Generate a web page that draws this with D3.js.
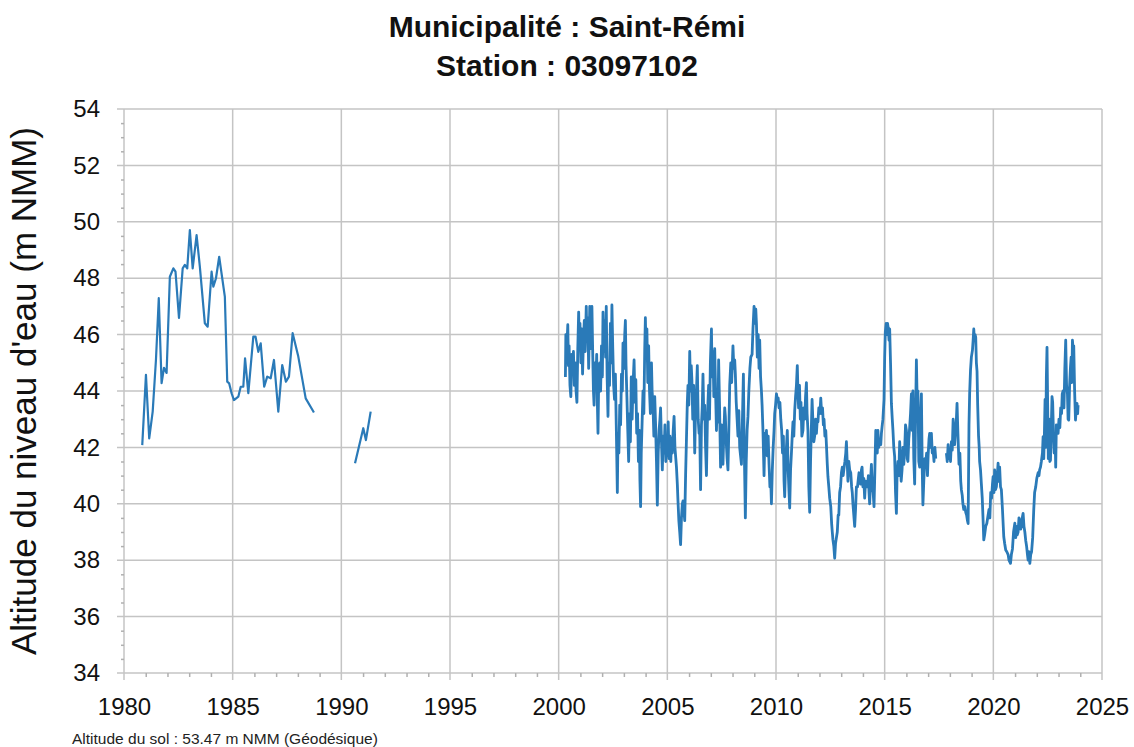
<!DOCTYPE html>
<html>
<head>
<meta charset="utf-8">
<script src="https://cdn.jsdelivr.net/npm/d3@7"></script>
<style>
  body { margin: 0; background: #fff; }
  svg { display: block; font-family: "Liberation Sans", Arial, sans-serif; }
</style>
</head>
<body>
<div id="chart"></div>
<script>
// titles
const titleLines = ["Municipalité : Saint-Rémi", "Station : 03097102"];
const yLabel = "Altitude du niveau d'eau (m NMM)";
const footNote = "Altitude du sol : 53.47 m NMM (Géodésique)";

// ticks
const xTicks = [1980, 1985, 1990, 1995, 2000, 2005, 2010, 2015, 2020, 2025];
const yTicks = [34, 36, 38, 40, 42, 44, 46, 48, 50, 52, 54];

// series : [année décimale, niveau (m)]
const serie1980 = [
  [1980.84, 42.08], [1981.01, 44.57], [1981.16, 42.32], [1981.32, 43.27], [1981.47, 45.1],
  [1981.6, 47.29], [1981.73, 44.28], [1981.84, 44.82], [1981.96, 44.64], [1982.11, 48.05],
  [1982.27, 48.35], [1982.37, 48.23], [1982.53, 46.59], [1982.7, 48.35], [1982.8, 48.47],
  [1982.91, 48.35], [1983.03, 49.71], [1983.16, 48.35], [1983.34, 49.53], [1983.49, 48.41],
  [1983.72, 46.4], [1983.85, 46.28], [1984.03, 48.23], [1984.11, 47.7], [1984.23, 47.99],
  [1984.38, 48.76], [1984.64, 47.35], [1984.75, 44.33], [1984.84, 44.27], [1984.95, 43.92],
  [1985.06, 43.68], [1985.26, 43.8], [1985.37, 44.15], [1985.49, 44.15], [1985.57, 45.16],
  [1985.72, 43.92], [1985.95, 45.93], [1986.05, 45.93], [1986.18, 45.39], [1986.29, 45.69],
  [1986.45, 44.15], [1986.59, 44.51], [1986.75, 44.45], [1986.9, 45.1], [1987.1, 43.27],
  [1987.28, 44.92], [1987.45, 44.33], [1987.59, 44.51], [1987.76, 46.05], [1988.02, 45.22],
  [1988.36, 43.74], [1988.74, 43.24]
];

const serie1990 = [
  [1990.63, 41.44], [1991.01, 42.68], [1991.13, 42.26], [1991.35, 43.27]
];

const serie2000 = [
  [2000.31, 44.5], [2000.33, 46.0], [2000.36, 45.0], [2000.39, 45.8], [2000.42, 46.35], [2000.45, 44.9],
  [2000.48, 45.6], [2000.52, 44.2], [2000.56, 43.8], [2000.6, 45.3], [2000.64, 44.6], [2000.68, 45.4],
  [2000.72, 44.2], [2000.76, 45.0], [2000.8, 44.0], [2000.84, 43.6], [2000.88, 45.5], [2000.92, 46.8],
  [2000.95, 45.6], [2000.98, 46.4], [2001.02, 45.0], [2001.06, 46.2], [2001.1, 44.6], [2001.14, 45.8],
  [2001.18, 46.5], [2001.22, 45.4], [2001.27, 47.0], [2001.3, 45.8], [2001.34, 46.6], [2001.38, 44.8],
  [2001.43, 47.0], [2001.46, 45.5], [2001.5, 46.2], [2001.53, 47.0], [2001.57, 45.2], [2001.6, 44.0],
  [2001.63, 43.5], [2001.67, 45.0], [2001.71, 44.2], [2001.75, 45.3], [2001.78, 43.6], [2001.81, 42.5],
  [2001.85, 44.8], [2001.89, 45.0], [2001.93, 44.0], [2001.97, 45.6], [2002.01, 44.5], [2002.04, 46.8],
  [2002.08, 45.4], [2002.12, 46.5], [2002.16, 45.2], [2002.19, 47.0], [2002.23, 44.5], [2002.27, 43.1],
  [2002.3, 45.0], [2002.34, 44.2], [2002.38, 46.4], [2002.42, 45.0], [2002.45, 47.05], [2002.49, 45.5],
  [2002.53, 44.2], [2002.57, 43.7], [2002.61, 44.6], [2002.65, 42.8], [2002.7, 40.4], [2002.73, 42.5],
  [2002.77, 41.8], [2002.81, 43.5], [2002.85, 42.8], [2002.89, 44.6], [2002.93, 44.0], [2002.96, 45.7],
  [2003.0, 44.8], [2003.04, 46.0], [2003.07, 46.5], [2003.1, 44.9], [2003.14, 43.8], [2003.18, 42.6],
  [2003.22, 41.5], [2003.26, 43.2], [2003.3, 42.2], [2003.34, 44.5], [2003.38, 43.0], [2003.42, 44.2],
  [2003.47, 45.1], [2003.51, 43.6], [2003.55, 44.4], [2003.59, 42.5], [2003.63, 43.2], [2003.67, 41.5],
  [2003.71, 42.6], [2003.74, 40.8], [2003.77, 39.9], [2003.8, 41.8], [2003.84, 42.9], [2003.88, 44.0],
  [2003.92, 43.2], [2003.96, 45.5], [2003.99, 46.6], [2004.02, 45.4], [2004.06, 46.2], [2004.1, 44.3],
  [2004.14, 45.6], [2004.18, 44.0], [2004.22, 43.2], [2004.27, 45.0], [2004.3, 44.0], [2004.34, 43.5],
  [2004.38, 42.4], [2004.42, 43.8], [2004.46, 42.8], [2004.5, 41.5], [2004.54, 39.95], [2004.58, 41.8],
  [2004.62, 42.6], [2004.66, 43.0], [2004.69, 43.4], [2004.73, 42.2], [2004.77, 41.2], [2004.81, 42.4],
  [2004.85, 41.8], [2004.89, 42.8], [2004.93, 41.5], [2004.97, 42.2], [2005.01, 41.7], [2005.04, 42.9],
  [2005.08, 41.6], [2005.12, 42.4], [2005.16, 41.5], [2005.19, 42.3], [2005.23, 41.8], [2005.27, 42.6],
  [2005.31, 43.1], [2005.35, 42.0], [2005.39, 41.6], [2005.42, 41.3], [2005.46, 40.7], [2005.49, 40.1],
  [2005.53, 39.4], [2005.57, 39.0], [2005.61, 38.55], [2005.65, 39.5], [2005.69, 40.0], [2005.72, 40.1],
  [2005.76, 39.8], [2005.8, 39.4], [2005.84, 41.0], [2005.88, 42.3], [2005.92, 43.6], [2005.95, 44.2],
  [2005.99, 43.5], [2006.03, 45.4], [2006.07, 44.0], [2006.1, 44.9], [2006.13, 44.4], [2006.17, 43.0],
  [2006.21, 44.2], [2006.26, 41.8], [2006.3, 43.4], [2006.34, 44.0], [2006.38, 44.9], [2006.42, 43.0],
  [2006.46, 42.5], [2006.49, 42.6], [2006.53, 40.5], [2006.57, 42.8], [2006.61, 43.5], [2006.64, 44.6],
  [2006.68, 43.0], [2006.72, 43.5], [2006.76, 42.0], [2006.8, 41.0], [2006.84, 42.8], [2006.87, 43.6],
  [2006.9, 44.2], [2006.94, 43.0], [2006.98, 45.0], [2007.03, 46.2], [2007.06, 44.5], [2007.1, 45.4],
  [2007.14, 43.8], [2007.18, 45.5], [2007.22, 44.0], [2007.26, 42.6], [2007.3, 43.8], [2007.33, 42.9],
  [2007.36, 45.1], [2007.4, 43.6], [2007.45, 41.3], [2007.49, 42.8], [2007.53, 42.0], [2007.56, 41.4],
  [2007.6, 42.5], [2007.64, 43.4], [2007.67, 43.1], [2007.71, 42.2], [2007.75, 41.6], [2007.79, 41.2],
  [2007.83, 42.6], [2007.87, 44.2], [2007.92, 45.0], [2007.96, 44.3], [2008.02, 45.6], [2008.06, 44.8],
  [2008.1, 45.1], [2008.13, 44.6], [2008.17, 43.6], [2008.21, 43.0], [2008.25, 42.4], [2008.29, 43.3],
  [2008.33, 42.0], [2008.37, 41.7], [2008.41, 41.4], [2008.45, 42.8], [2008.5, 44.6], [2008.53, 42.5],
  [2008.56, 41.0], [2008.59, 39.5], [2008.63, 41.5], [2008.67, 42.6], [2008.71, 43.1], [2008.75, 44.0],
  [2008.8, 44.8], [2008.84, 45.2], [2008.9, 45.3], [2008.94, 46.2], [2008.99, 47.0], [2009.03, 46.4],
  [2009.07, 46.9], [2009.1, 46.4], [2009.14, 45.2], [2009.18, 46.0], [2009.22, 44.8], [2009.25, 45.8],
  [2009.29, 44.5], [2009.33, 44.0], [2009.36, 43.5], [2009.4, 42.6], [2009.45, 41.0], [2009.49, 42.5],
  [2009.53, 41.8], [2009.56, 42.6], [2009.6, 41.7], [2009.64, 42.4], [2009.68, 41.4], [2009.72, 40.6],
  [2009.76, 40.8], [2009.79, 40.0], [2009.83, 41.2], [2009.87, 42.0], [2009.91, 42.6], [2009.94, 43.2],
  [2009.98, 43.5], [2010.02, 43.9], [2010.06, 43.7], [2010.1, 43.75], [2010.14, 43.4], [2010.18, 43.6],
  [2010.22, 43.0], [2010.26, 42.6], [2010.3, 41.8], [2010.34, 42.4], [2010.37, 40.8], [2010.4, 40.25],
  [2010.44, 41.4], [2010.48, 42.0], [2010.52, 42.6], [2010.56, 41.2], [2010.6, 40.4], [2010.63, 39.85],
  [2010.67, 41.2], [2010.71, 41.8], [2010.74, 42.3], [2010.78, 42.9], [2010.82, 42.4], [2010.86, 43.3],
  [2010.9, 43.8], [2010.94, 44.2], [2010.98, 44.9], [2011.01, 44.0], [2011.04, 43.4], [2011.08, 44.2],
  [2011.12, 43.0], [2011.15, 43.6], [2011.19, 42.4], [2011.24, 42.6], [2011.28, 43.4], [2011.32, 43.0],
  [2011.36, 43.8], [2011.4, 44.3], [2011.43, 43.2], [2011.47, 42.6], [2011.51, 40.6], [2011.55, 39.7],
  [2011.59, 41.5], [2011.63, 42.8], [2011.66, 43.7], [2011.7, 42.9], [2011.74, 42.2], [2011.78, 42.4],
  [2011.82, 43.0], [2011.86, 42.5], [2011.9, 43.0], [2011.93, 42.9], [2011.97, 43.4], [2012.02, 43.2],
  [2012.06, 43.75], [2012.1, 43.2], [2012.14, 43.4], [2012.18, 42.8], [2012.21, 43.0], [2012.25, 42.4],
  [2012.29, 42.6], [2012.32, 42.1], [2012.36, 41.4], [2012.39, 40.96], [2012.43, 40.6], [2012.47, 40.2],
  [2012.52, 39.9], [2012.56, 39.3], [2012.59, 39.0], [2012.62, 38.72], [2012.66, 38.5], [2012.7, 38.07],
  [2012.74, 38.6], [2012.78, 38.8], [2012.82, 39.0], [2012.86, 39.6], [2012.89, 39.6], [2012.93, 40.4],
  [2012.97, 40.6], [2013.01, 41.1], [2013.05, 41.3], [2013.09, 41.0], [2013.13, 41.26], [2013.17, 41.5],
  [2013.21, 41.8], [2013.24, 42.2], [2013.28, 41.4], [2013.31, 40.8], [2013.35, 41.5], [2013.39, 41.2],
  [2013.44, 41.1], [2013.48, 40.6], [2013.51, 40.4], [2013.54, 40.0], [2013.58, 39.6], [2013.62, 39.2],
  [2013.66, 39.8], [2013.7, 40.6], [2013.75, 40.6], [2013.79, 40.9], [2013.82, 41.1], [2013.85, 41.0],
  [2013.89, 40.7], [2013.93, 41.2], [2013.96, 41.3], [2014.0, 40.6], [2014.04, 40.9], [2014.08, 40.2],
  [2014.12, 40.8], [2014.16, 40.6], [2014.21, 40.6], [2014.25, 41.0], [2014.28, 40.4], [2014.31, 40.0],
  [2014.35, 40.8], [2014.39, 41.4], [2014.43, 40.6], [2014.47, 40.4], [2014.51, 39.9], [2014.55, 41.2],
  [2014.59, 42.6], [2014.63, 42.2], [2014.66, 41.8], [2014.69, 42.6], [2014.73, 42.0], [2014.78, 42.3],
  [2014.82, 42.1], [2014.85, 42.5], [2014.88, 42.73], [2014.92, 43.0], [2014.97, 43.7], [2015.0, 45.2],
  [2015.03, 46.1], [2015.07, 46.4], [2015.1, 46.0], [2015.13, 46.4], [2015.17, 46.2], [2015.2, 45.8],
  [2015.23, 46.2], [2015.27, 45.0], [2015.31, 43.56], [2015.35, 43.0], [2015.38, 42.62], [2015.42, 42.0],
  [2015.46, 41.67], [2015.5, 40.4], [2015.54, 39.66], [2015.57, 41.0], [2015.61, 41.5], [2015.65, 41.0],
  [2015.69, 42.2], [2015.72, 41.6], [2015.76, 40.8], [2015.8, 41.2], [2015.84, 42.0], [2015.88, 41.4],
  [2015.92, 41.9], [2015.96, 42.8], [2016.0, 42.6], [2016.04, 41.6], [2016.07, 41.5], [2016.11, 42.3],
  [2016.15, 42.7], [2016.19, 43.2], [2016.23, 43.9], [2016.27, 42.6], [2016.3, 44.0], [2016.34, 41.6],
  [2016.38, 40.7], [2016.42, 43.0], [2016.46, 45.1], [2016.5, 43.5], [2016.53, 44.0], [2016.57, 41.5],
  [2016.61, 41.3], [2016.65, 43.0], [2016.69, 43.9], [2016.73, 41.2], [2016.76, 39.96], [2016.8, 40.8],
  [2016.85, 41.6], [2016.89, 41.4], [2016.93, 41.8], [2016.97, 41.0], [2017.0, 41.7], [2017.04, 42.3],
  [2017.07, 42.5], [2017.11, 42.0], [2017.15, 42.5], [2017.19, 41.8], [2017.23, 41.9], [2017.27, 41.5],
  [2017.31, 42.0], [2017.35, 41.6]
];

const serie2018 = [
  [2017.84, 41.8], [2017.88, 41.5], [2017.92, 42.1], [2017.96, 41.6], [2018.0, 41.9], [2018.03, 41.5],
  [2018.07, 42.2], [2018.11, 41.9], [2018.15, 43.0], [2018.19, 42.4], [2018.22, 42.1], [2018.26, 42.6],
  [2018.3, 43.0], [2018.33, 43.56], [2018.37, 42.5], [2018.42, 41.4], [2018.46, 41.8], [2018.5, 40.8],
  [2018.53, 40.5], [2018.57, 40.3], [2018.6, 40.0], [2018.64, 39.8], [2018.69, 39.9], [2018.73, 39.7],
  [2018.77, 39.6], [2018.81, 39.4], [2018.84, 39.3], [2018.86, 41.0], [2018.88, 42.8], [2018.91, 43.9],
  [2018.95, 44.74], [2018.99, 45.2], [2019.04, 45.45], [2019.07, 45.8], [2019.1, 46.2], [2019.13, 45.8],
  [2019.16, 46.0], [2019.19, 45.9], [2019.22, 45.0], [2019.25, 44.7], [2019.28, 43.5], [2019.32, 42.4],
  [2019.35, 42.0], [2019.37, 41.5], [2019.41, 41.2], [2019.45, 40.7], [2019.49, 40.2], [2019.53, 39.4],
  [2019.56, 38.72], [2019.6, 38.9], [2019.65, 39.2], [2019.7, 39.3], [2019.76, 39.6], [2019.8, 39.8],
  [2019.84, 39.5], [2019.88, 40.4], [2019.92, 40.2], [2019.96, 40.7], [2019.99, 40.96], [2020.03, 40.4],
  [2020.06, 41.2], [2020.1, 40.5], [2020.14, 40.6], [2020.18, 41.0], [2020.22, 41.44], [2020.25, 40.8],
  [2020.29, 41.3], [2020.33, 40.6], [2020.37, 40.5], [2020.42, 39.8], [2020.48, 38.83], [2020.52, 38.6],
  [2020.57, 38.36], [2020.62, 38.3], [2020.68, 38.2], [2020.72, 38.0], [2020.79, 37.89], [2020.83, 38.2],
  [2020.88, 38.4], [2020.93, 39.0], [2020.99, 39.31], [2021.03, 38.8], [2021.06, 39.2], [2021.1, 38.9],
  [2021.14, 39.0], [2021.18, 39.5], [2021.22, 39.4], [2021.26, 39.1], [2021.29, 39.2], [2021.33, 39.5],
  [2021.37, 39.66], [2021.41, 39.2], [2021.45, 39.0], [2021.49, 38.7], [2021.53, 38.5], [2021.57, 38.2],
  [2021.6, 38.0], [2021.64, 38.3], [2021.68, 37.89], [2021.72, 38.2], [2021.76, 38.3], [2021.81, 38.8],
  [2021.86, 39.8], [2021.9, 40.4], [2021.95, 40.6], [2022.0, 40.9], [2022.06, 41.1], [2022.1, 41.0],
  [2022.13, 41.2], [2022.17, 41.3], [2022.21, 41.5], [2022.26, 41.8], [2022.29, 42.38], [2022.32, 41.6],
  [2022.35, 42.5], [2022.38, 43.7], [2022.41, 42.0], [2022.44, 44.5], [2022.47, 45.55], [2022.5, 43.5],
  [2022.53, 41.6], [2022.57, 43.0], [2022.6, 41.5], [2022.63, 41.55], [2022.67, 42.8], [2022.7, 43.8],
  [2022.73, 43.6], [2022.77, 42.4], [2022.8, 41.8], [2022.84, 42.5], [2022.87, 41.3], [2022.9, 42.8],
  [2022.94, 42.5], [2022.98, 42.5], [2023.02, 43.0], [2023.06, 42.7], [2023.1, 43.4], [2023.14, 43.2],
  [2023.17, 43.9], [2023.21, 44.0], [2023.25, 43.4], [2023.29, 44.8], [2023.33, 45.8], [2023.37, 44.2],
  [2023.41, 43.9], [2023.44, 43.0], [2023.47, 42.97], [2023.51, 44.2], [2023.55, 44.86], [2023.58, 45.2],
  [2023.61, 44.3], [2023.64, 45.8], [2023.67, 45.5], [2023.7, 45.6], [2023.74, 44.0], [2023.78, 42.97],
  [2023.81, 43.3], [2023.85, 43.56], [2023.88, 43.2], [2023.9, 43.5]
];

// anciennes mesures (trait fin) et mesures récentes (trait plus épais, données denses)
const segments = [
  { points: serie1980, dense: false },
  { points: serie1990, dense: false },
  { points: serie2000, dense: true },
  { points: serie2018, dense: true }
];

// dimensions
const width = 1134,
  height = 747;
const margin = { top: 109, right: 32, bottom: 74, left: 124 };

const svg = d3
  .select("#chart")
  .append("svg")
  .attr("width", width)
  .attr("height", height);

svg.append("rect").attr("width", width).attr("height", height).attr("fill", "#fff");

const x = d3
  .scaleLinear()
  .domain([1980, 2025])
  .range([margin.left, width - margin.right]);

const y = d3
  .scaleLinear()
  .domain([34, 54])
  .range([height - margin.bottom, margin.top]);

const gridColor = "#c4c4c4";

// grille horizontale
svg
  .append("g")
  .selectAll("line")
  .data(yTicks)
  .join("line")
  .attr("x1", x(1980) - 7)
  .attr("x2", x(2025))
  .attr("y1", (d) => y(d))
  .attr("y2", (d) => y(d))
  .attr("stroke", gridColor)
  .attr("stroke-width", 1.5);

// grille verticale
svg
  .append("g")
  .selectAll("line")
  .data(xTicks)
  .join("line")
  .attr("x1", (d) => x(d))
  .attr("x2", (d) => x(d))
  .attr("y1", y(54))
  .attr("y2", y(34) + 7)
  .attr("stroke", gridColor)
  .attr("stroke-width", 1.5);

// petites graduations
const minorY = d3.range(34, 54, 0.5).filter((d) => d % 2 !== 0);
const minorX = d3.range(1980, 2025, 1).filter((d) => d % 5 !== 0);

svg
  .append("g")
  .attr("transform", `translate(${x(1980)},0)`)
  .call(d3.axisLeft(y).tickValues(minorY).tickSize(3).tickFormat(""))
  .call((g) => g.select(".domain").remove())
  .call((g) => g.selectAll("line").attr("stroke", "#b0b0b0").attr("stroke-width", 1.5));

svg
  .append("g")
  .attr("transform", `translate(0,${y(34)})`)
  .call(d3.axisBottom(x).tickValues(minorX).tickSize(4).tickFormat(""))
  .call((g) => g.select(".domain").remove())
  .call((g) => g.selectAll("line").attr("stroke", "#b0b0b0").attr("stroke-width", 1.5));

// axes avec étiquettes
svg
  .append("g")
  .attr("transform", `translate(0,${y(34)})`)
  .call(d3.axisBottom(x).tickValues(xTicks).tickFormat(d3.format("d")).tickSize(7).tickPadding(18))
  .call((g) => g.select(".domain").remove())
  .call((g) => g.selectAll("line").remove())
  .call((g) => g.selectAll("text").attr("font-size", 24).attr("fill", "#111").attr("font-family", null));

svg
  .append("g")
  .attr("transform", `translate(${x(1980)},0)`)
  .call(d3.axisLeft(y).tickValues(yTicks).tickSize(7).tickPadding(17))
  .call((g) => g.select(".domain").remove())
  .call((g) => g.selectAll("line").remove())
  .call((g) => g.selectAll("text").attr("font-size", 24).attr("fill", "#111").attr("font-family", null));

// courbes
const line = d3
  .line()
  .x((d) => x(d[0]))
  .y((d) => y(d[1]));

svg
  .append("g")
  .selectAll("path")
  .data(segments)
  .join("path")
  .attr("d", (d) => line(d.points))
  .attr("fill", "none")
  .attr("stroke", "#2a7ab8")
  .attr("stroke-width", (d) => (d.dense ? 2.8 : 2.2))
  .attr("stroke-linejoin", "round");

// titre
svg
  .append("g")
  .selectAll("text")
  .data(titleLines)
  .join("text")
  .attr("x", 567)
  .attr("y", (d, i) => 37 + i * 39)
  .attr("text-anchor", "middle")
  .attr("font-size", 30)
  .attr("font-weight", "bold")
  .attr("fill", "#111")
  .text((d) => d);

// titre axe Y
svg
  .append("text")
  .attr("transform", `translate(36, ${(y(34) + y(54)) / 2}) rotate(-90)`)
  .attr("text-anchor", "middle")
  .attr("font-size", 35)
  .attr("fill", "#111")
  .text(yLabel);

// note
svg
  .append("text")
  .attr("x", 72)
  .attr("y", 744)
  .attr("font-size", 15.5)
  .attr("fill", "#222")
  .text(footNote);
</script>
</body>
</html>
